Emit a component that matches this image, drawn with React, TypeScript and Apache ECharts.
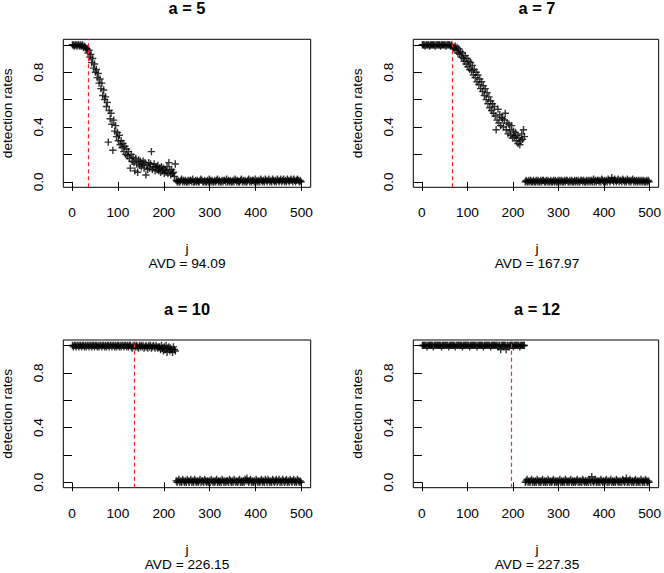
import React, { useEffect, useRef } from "react";
import * as echarts from "echarts";

// ---------- data ----------
const panelTitles = ["a = 5", "a = 7", "a = 10", "a = 12"];
const avdLabels = ["AVD = 94.09", "AVD = 167.97", "AVD = 226.15", "AVD = 227.35"];
const changePoints = [35, 65.5, 136, 195.5];
const xTicks = [0, 100, 200, 300, 400, 500];
const yTicks = [0, 0.2, 0.4, 0.6, 0.8, 1];
const yLabels = [0, 0.4, 0.8];

// detection rates in hundredths; head: j = 1,3,...,225 ; tail: j = 227,229,...,499
const a5Head = [
  100, 100, 99, 100, 100, 99, 100, 100, 99, 100, 99, 100, 98, 99, 98, 97,
  97, 94, 96, 91, 93, 87, 90, 83, 86, 80, 82, 76, 79, 72, 75, 68, 72, 63, 67, 60,
  62, 55, 58, 29, 52, 46, 50, 42, 23, 45, 37, 41, 33, 36, 30, 34, 27, 30, 25, 28,
  22, 26, 20, 24, 19, 22, 17, 10, 20, 15, 18, 14, 8, 17, 13, 7, 16, 12, 15, 11,
  13, 15, 10, 14, 5, 12, 9, 14, 10, 13, 22, 9, 11, 13, 8, 11, 9, 12, 8, 10,
  7, 11, 8, 10, 6, 9, 7, 11, 6, 14, 8, 5, 9, 6, 7, 4, 13,
];
const a5Tail = [
  1, 0, 1, 0, 0, 1, 2, 0, 1, 0, 1, 0, 0, 1, 0, 1, 1, 0, 2, 0,
  0, 1, 0, 1, 0, 0, 1, 2, 1, 0, 0, 1, 0, 0, 1, 0, 2, 1, 0, 1,
  0, 0, 1, 0, 1, 2, 0, 1, 0, 0, 1, 0, 1, 1, 0, 2, 0, 1, 0, 1,
  0, 0, 1, 0, 2, 1, 0, 1, 0, 0, 1, 2, 0, 1, 0, 1, 0, 0, 1, 2,
  0, 1, 0, 1, 1, 0, 2, 0, 1, 0, 1, 0, 2, 1, 0, 1, 0, 2, 1, 0,
  1, 2, 0, 1, 0, 2, 1, 0, 1, 0, 2, 1, 0, 1, 2, 0, 1, 2, 0, 1,
  0, 2, 1, 0, 1, 2, 1, 0, 2, 1, 0, 1, 2, 1, 0, 1, 0,
];
const a7Head = [
  100, 100, 100, 99, 100, 100, 100, 100, 99, 100, 100, 100, 100, 100, 99, 100,
  100, 100, 100, 100, 99, 100, 100, 100, 100, 100, 99, 100, 100, 100, 100, 99, 100,
  99, 98, 97, 99, 96, 98, 94, 97, 93, 95, 91, 94, 90, 88, 92, 86, 90, 84, 88, 82,
  87, 81, 85, 78, 82, 76, 80, 73, 78, 71, 75, 68, 73, 66, 70, 63, 68, 60, 65, 57,
  62, 54, 59, 52, 57, 50, 55, 48, 38, 45, 53, 43, 49, 41, 47, 46, 40, 45, 50, 38,
  43, 35, 42, 38, 34, 41, 32, 37, 33, 36, 30, 34, 28, 32, 27, 30, 35, 31, 38, 33,
];
const a7Tail = [
  0, 1, 0, 0, 1, 0, 1, 0, 0, 1, 0, 0, 1, 0, 1, 0, 0, 1, 0, 1,
  1, 0, 0, 1, 0, 1, 0, 0, 1, 0, 0, 1, 0, 1, 0, 0, 1, 0, 1, 0,
  1, 0, 0, 1, 0, 1, 1, 0, 0, 1, 0, 1, 0, 0, 1, 0, 1, 0, 1, 0,
  0, 1, 1, 0, 1, 0, 0, 1, 0, 1, 0, 1, 0, 1, 0, 2, 0, 1, 0, 1,
  1, 0, 1, 0, 2, 1, 0, 1, 0, 1, 0, 2, 1, 0, 1, 3, 1, 0, 2, 1,
  0, 1, 2, 0, 1, 1, 0, 2, 1, 0, 1, 0, 2, 1, 0, 1, 0, 1, 2, 0,
  1, 0, 1, 0, 1, 0, 1, 0, 1, 0, 1, 0, 0, 1, 0, 1, 0,
];
const a10Head = [
  100, 99, 100, 100, 99, 100, 100, 99, 100, 100, 99, 100, 100, 99, 100, 99, 100, 100, 99, 100,
  100, 99, 100, 100, 99, 100, 100, 99, 100, 99, 100, 100, 99, 100, 100, 99, 100, 99, 100, 100,
  99, 100, 100, 99, 100, 100, 99, 100, 99, 100, 100, 99, 100, 99, 100, 100, 99, 100, 100, 99,
  100, 99, 100, 100, 99, 98, 100, 99, 100, 99, 100, 99, 98, 100, 99, 100, 99, 100, 98, 99,
  100, 99, 98, 100, 99, 100, 98, 99, 100, 99, 98, 100, 99, 98, 99,
  99, 97, 100, 98, 96, 99, 97, 100, 95, 98, 99, 96, 98, 97, 95, 99, 97, 96,
];
const a10Tail = [
  1, 0, 1, 2, 0, 1, 0, 2, 1, 0, 1, 0, 2, 1, 0, 1, 2, 0, 1, 0,
  2, 1, 0, 1, 0, 1, 2, 0, 1, 1, 0, 2, 1, 0, 1, 0, 1, 0, 2, 1,
  0, 1, 0, 1, 2, 0, 1, 0, 1, 0, 2, 1, 0, 1, 0, 1, 1, 0, 2, 1,
  0, 1, 0, 2, 1, 0, 1, 0, 1, 2, 0, 1, 0, 1, 0, 2, 1, 3, 1, 0,
  1, 2, 0, 1, 0, 1, 0, 2, 1, 0, 1, 0, 1, 2, 0, 1, 0, 2, 1, 0,
  2, 1, 0, 1, 0, 2, 1, 0, 1, 2, 0, 1, 2, 0, 1, 0, 2, 1, 0, 1,
  2, 0, 1, 0, 2, 1, 0, 1, 2, 0, 1, 0, 2, 1, 0, 1, 0,
];
const a12Head = [
  100, 100, 100, 100, 100, 99, 100, 100, 100, 100, 100, 100, 99, 100, 100, 100, 100, 100, 100, 100,
  100, 99, 100, 100, 100, 100, 100, 100, 100, 99, 100, 100, 100, 100, 100, 100, 99, 100, 100, 100,
  100, 100, 100, 100, 99, 100, 100, 100, 100, 100, 100, 100, 99, 100, 100, 100, 100, 100, 100, 100,
  99, 100, 100, 100, 100, 100, 100, 99, 100, 100, 100, 100, 100, 100, 100, 99, 100, 100, 100, 100,
  100, 100, 100, 99, 100, 100, 97, 100, 100, 100, 100, 100, 97, 100, 100, 99, 100, 100, 100, 100,
  99, 100, 100, 100, 100, 100, 100, 99, 100, 100, 100, 100, 100,
];
const a12Tail = [
  0, 1, 2, 0, 1, 0, 1, 2, 0, 1, 0, 1, 0, 2, 1, 0, 1, 0, 1, 2,
  0, 1, 0, 1, 0, 2, 1, 0, 1, 0, 1, 2, 0, 1, 0, 1, 0, 1, 2, 0,
  1, 0, 1, 0, 2, 1, 0, 1, 0, 1, 2, 0, 1, 0, 1, 0, 1, 2, 0, 1,
  0, 1, 0, 2, 1, 0, 1, 0, 1, 0, 2, 1, 0, 4, 1, 0, 1, 2, 0, 1,
  0, 1, 0, 2, 1, 0, 1, 0, 1, 2, 0, 1, 0, 1, 2, 0, 1, 0, 1, 0,
  2, 1, 0, 1, 0, 1, 0, 2, 1, 0, 1, 3, 0, 1, 0, 2, 1, 0, 1, 0,
  1, 2, 0, 1, 0, 1, 0, 2, 1, 0, 1, 0, 2, 1, 0, 1, 0,
];
const heads = [a5Head, a7Head, a10Head, a12Head];
const tails = [a5Tail, a7Tail, a10Tail, a12Tail];
const HEAD_START = 1;
const TAIL_START = 227;
const J_STEP = 2;

// ---------- layout ----------
const FONT = "'Liberation Sans', Arial, Helvetica, sans-serif";
const PANELS = [
  { left: 63.3, top: 39.3, w: 247.4, h: 148 },
  { left: 413.3, top: 39.3, w: 247.4, h: 148 },
  { left: 63.3, top: 340, w: 247.4, h: 147.7 },
  { left: 413.3, top: 340, w: 247.4, h: 147.7 },
];
const PLUS = "path://M5,0L5,10M0,5L10,5";

function toPoints(head: number[], tail: number[]) {
  const pts: number[][] = [];
  head.forEach((v, i) => pts.push([HEAD_START + i * J_STEP, v / 100]));
  tail.forEach((v, i) => pts.push([TAIL_START + i * J_STEP, v / 100]));
  return pts;
}

export default function App() {
  const ref = useRef<HTMLDivElement>(null);
  useEffect(() => {
    if (!ref.current) return;
    const chart = echarts.init(ref.current, undefined, { renderer: "svg" });
    const grid = PANELS.map((p) => ({
      left: p.left,
      top: p.top,
      width: p.w,
      height: p.h,
      show: true,
      borderColor: "#000",
      borderWidth: 1,
      backgroundColor: "transparent",
      containLabel: false,
    }));
    const xAxis = PANELS.map((_, i) => ({
      gridIndex: i,
      type: "value",
      min: -18.96,
      max: 519.96,
      axisLine: { show: false },
      splitLine: { show: false },
      axisTick: {
        show: true,
        inside: false,
        length: 9,
        lineStyle: { color: "#000", width: 1 },
        customValues: xTicks,
      },
      axisLabel: {
        show: true,
        customValues: xTicks,
        margin: 18.5,
        color: "#000",
        fontSize: 13.7,
        fontFamily: FONT,
      },
    }));
    const yAxis = PANELS.map((_, i) => ({
      gridIndex: i,
      type: "value",
      min: -0.04,
      max: 1.04,
      axisLine: { show: false },
      splitLine: { show: false },
      axisTick: {
        show: true,
        inside: false,
        length: 8.5,
        lineStyle: { color: "#000", width: 1 },
        customValues: yTicks,
      },
      axisLabel: {
        show: true,
        customValues: yLabels,
        rotate: 90,
        margin: 18,
        color: "#000",
        fontSize: 13.7,
        fontFamily: FONT,
        formatter: (v: number) => Number(v).toFixed(1),
      },
    }));
    const series = PANELS.map((_, i) => ({
      type: "scatter",
      xAxisIndex: i,
      yAxisIndex: i,
      symbol: PLUS,
      symbolSize: 7.3,
      itemStyle: { color: "rgba(0,0,0,0)", borderColor: "#000", borderWidth: 1.4 },
      emphasis: { disabled: true },
      data: toPoints(heads[i], tails[i]),
      z: 2,
      markLine: {
        silent: true,
        symbol: ["none", "none"],
        label: { show: false },
        lineStyle: { color: "#ff2020", type: [4, 3], width: 1.2, opacity: 1 },
        emphasis: { disabled: true },
        data: [{ xAxis: changePoints[i] }],
        z: 5,
      },
    }));
    const graphic: any[] = [];
    PANELS.forEach((p, i) => {
      const cx = p.left + p.w / 2;
      graphic.push({
        type: "text",
        x: cx,
        y: p.top - 31,
        style: {
          text: panelTitles[i],
          fontSize: 16.4,
          fontWeight: "bold",
          fontFamily: FONT,
          fill: "#000",
          align: "center",
          verticalAlign: "middle",
        },
      });
      graphic.push({
        type: "text",
        x: cx,
        y: p.top + 209,
        style: {
          text: "j",
          fontSize: 13.7,
          fontFamily: FONT,
          fill: "#000",
          align: "center",
          verticalAlign: "middle",
        },
      });
      graphic.push({
        type: "text",
        x: cx,
        y: p.top + 224.2,
        style: {
          text: avdLabels[i],
          fontSize: 13.7,
          fontFamily: FONT,
          fill: "#000",
          align: "center",
          verticalAlign: "middle",
        },
      });
      graphic.push({
        type: "text",
        x: p.left - 55.4,
        y: p.top + p.h / 2,
        rotation: Math.PI / 2,
        style: {
          text: "detection rates",
          fontSize: 13.7,
          fontFamily: FONT,
          fill: "#000",
          align: "center",
          verticalAlign: "middle",
        },
      });
    });
    chart.setOption({
      animation: false,
      backgroundColor: "#fff",
      grid,
      xAxis,
      yAxis,
      series,
      graphic,
    } as any);
    return () => chart.dispose();
  }, []);
  return (
    <div
      ref={ref}
      style={{ position: "fixed", left: 0, top: 0, width: 664, height: 573, background: "#fff" }}
    />
  );
}
